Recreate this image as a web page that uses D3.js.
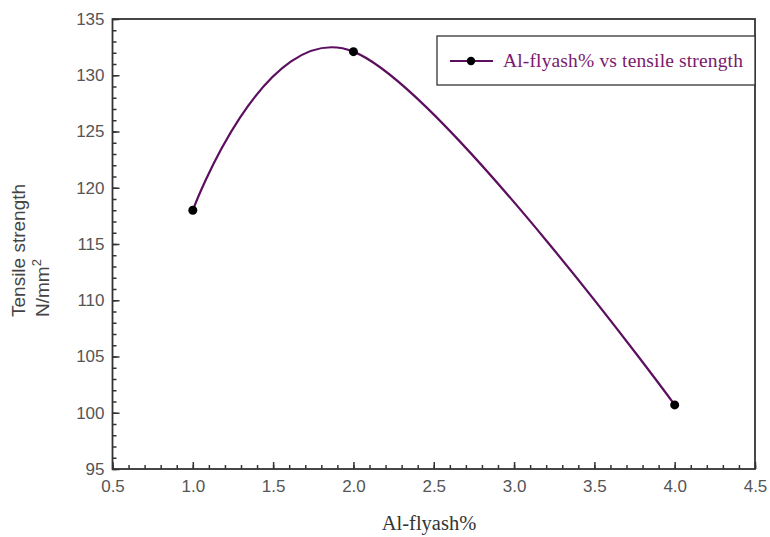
<!DOCTYPE html>
<html><head><meta charset="utf-8">
<script src="https://cdn.jsdelivr.net/npm/d3@7"></script>
<style>body{margin:0;background:#fff}svg{display:block}</style>
</head><body>
<svg id="c" width="770" height="537"></svg>
<script>
const xValues = [1.0, 2.0, 4.0];
const strength = [118.0, 132.1, 100.7];
const xTicks = [0.5, 1.0, 1.5, 2.0, 2.5, 3.0, 3.5, 4.0, 4.5];
const yTicks = [95, 100, 105, 110, 115, 120, 125, 130, 135];
const seriesName = "Al-flyash% vs tensile strength";
const xTitle = "Al-flyash%";

const svg = d3.select("#c");
const L = 112.5, R = 755, T = 19, B = 469;
const x = d3.scaleLinear().domain([0.5, 4.5]).range([L, R]);
const y = d3.scaleLinear().domain([95, 135]).range([B, T]);
const axisCol = "#333", lblCol = "#555";
const lineCol = "#5c0f5f";

// minor ticks
const xMinor = d3.range(0.5, 4.5001, 0.1);
const yMinor = d3.range(95, 135.001, 1);

const gx = svg.append("g").attr("transform", `translate(0,${B})`)
  .call(d3.axisBottom(x).tickValues(xMinor).tickSize(-4).tickFormat(""));
gx.select(".domain").remove();
gx.selectAll("line").attr("stroke", axisCol).attr("stroke-width", 1.5);
const gx2 = svg.append("g").attr("transform", `translate(0,${B})`)
  .call(d3.axisBottom(x).tickValues(xTicks).tickSize(-7).tickPadding(20).tickFormat(d3.format(".1f")));
gx2.select(".domain").remove();
gx2.selectAll("line").attr("stroke", axisCol).attr("stroke-width", 1.5);
gx2.selectAll("text").attr("font-family", "Arial, 'Liberation Sans', sans-serif").attr("font-size", 17).attr("fill", lblCol).attr("dy", "0.2em");

const gy = svg.append("g").attr("transform", `translate(${L},0)`)
  .call(d3.axisLeft(y).tickValues(yMinor).tickSize(-4).tickFormat(""));
gy.select(".domain").remove();
gy.selectAll("line").attr("stroke", axisCol).attr("stroke-width", 1.5);
const gy2 = svg.append("g").attr("transform", `translate(${L},0)`)
  .call(d3.axisLeft(y).tickValues(yTicks).tickSize(-7).tickPadding(8).tickFormat(d3.format("d")));
gy2.select(".domain").remove();
gy2.selectAll("line").attr("stroke", axisCol).attr("stroke-width", 1.5);
gy2.selectAll("text").attr("font-family", "Arial, 'Liberation Sans', sans-serif").attr("font-size", 17).attr("fill", lblCol);

// frame
svg.append("rect").attr("x", L).attr("y", T).attr("width", R - L).attr("height", B - T)
  .attr("fill", "none").attr("stroke", axisCol).attr("stroke-width", 1.8);

// curve
const pts = xValues.map((v, i) => [v, strength[i]]);
svg.append("path").datum(pts)
  .attr("d", d3.line().x(d => x(d[0])).y(d => y(d[1])).curve(d3.curveCardinal.tension(-0.1)))
  .attr("fill", "none").attr("stroke", lineCol).attr("stroke-width", 2.2);
svg.selectAll("circle.pt").data(pts).join("circle").attr("class", "pt")
  .attr("cx", d => x(d[0])).attr("cy", d => y(d[1])).attr("r", 4.5).attr("fill", "#000");

// legend
svg.append("rect").attr("x", 437).attr("y", 36).attr("width", R - 437).attr("height", 49)
  .attr("fill", "#fff").attr("stroke", axisCol).attr("stroke-width", 1.3);
svg.append("line").attr("x1", 450).attr("x2", 493).attr("y1", 61).attr("y2", 61)
  .attr("stroke", lineCol).attr("stroke-width", 2.2);
svg.append("circle").attr("cx", 471).attr("cy", 61).attr("r", 4.2).attr("fill", "#000");
svg.append("text").attr("x", 503).attr("y", 67).text(seriesName)
  .attr("font-family", "'Liberation Serif', 'Times New Roman', serif").attr("font-size", 19.5)
  .attr("letter-spacing", 0.15).attr("fill", "#7a1a6c");

// axis titles
svg.append("text").attr("x", 429).attr("y", 530).attr("text-anchor", "middle").text(xTitle)
  .attr("font-family", "'Liberation Serif', 'Times New Roman', serif").attr("font-size", 20.5).attr("fill", "#333");
const yt = svg.append("text").attr("transform", "translate(25,317) rotate(-90)")
  .attr("font-family", "Arial, 'Liberation Sans', sans-serif").attr("font-size", 19).attr("fill", "#444");
yt.append("tspan").attr("x", 0).attr("y", 0).text("Tensile strength");
yt.append("tspan").attr("x", 0).attr("y", 24).text("N/mm");
yt.append("tspan").attr("dy", -8).attr("font-size", 13).text("2");
</script>
</body></html>
